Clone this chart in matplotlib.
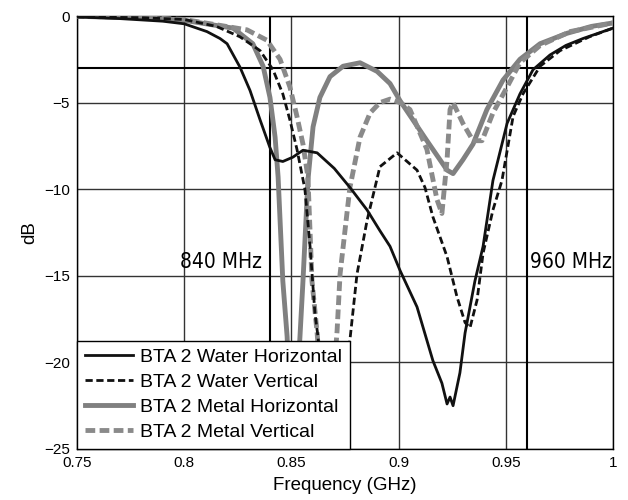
import matplotlib
matplotlib.use("Agg")
import matplotlib.pyplot as plt
from matplotlib import font_manager

# ---- data ----
wh_f = [0.75, 0.77, 0.79, 0.80, 0.8106, 0.8167, 0.82, 0.826, 0.8307, 0.8354, 0.840, 0.8424,
        0.846, 0.8507, 0.8554, 0.862, 0.87, 0.8773, 0.8853, 0.8913, 0.896, 0.9007, 0.9086,
        0.916, 0.9202, 0.9226, 0.924, 0.9254, 0.9286, 0.931, 0.9356, 0.9394, 0.944, 0.9506,
        0.9566, 0.9627, 0.9706, 0.978, 0.986, 0.993, 1.0]
wh_db = [-0.05, -0.15, -0.3, -0.45, -0.9, -1.3, -1.6, -2.95, -4.3, -6.0, -7.6, -8.3,
         -8.4, -8.15, -7.75, -7.9, -8.8, -9.9, -11.2, -12.4, -13.3, -14.7, -16.8,
         -19.9, -21.2, -22.4, -22.0, -22.5, -20.6, -18.3, -15.3, -13.3, -9.5, -6.2,
         -4.5, -3.1, -2.25, -1.7, -1.3, -1.0, -0.7]

wv_f = [0.75, 0.78, 0.80, 0.815, 0.826, 0.8354, 0.8414, 0.846, 0.8493, 0.8526, 0.8563,
        0.8587, 0.861, 0.8624, 0.866, 0.872, 0.8773, 0.8806, 0.8853, 0.8913, 0.8993,
        0.9086, 0.9123, 0.916, 0.9226, 0.9272, 0.931, 0.9333, 0.9366, 0.9394, 0.944,
        0.9482, 0.9534, 0.958, 0.966, 0.9753, 0.989, 1.0]
wv_db = [-0.05, -0.1, -0.2, -0.6, -1.2, -2.0, -3.1, -4.5, -6.0, -7.7, -10.0,
         -13.3, -17.2, -18.5, -23.5, -23.5, -18.7, -14.9, -11.8, -8.7, -7.9,
         -8.9, -9.9, -11.6, -13.9, -16.2, -17.7, -18.0, -16.4, -13.7, -11.2,
         -9.5, -5.8, -4.5, -2.9, -2.0, -1.2, -0.7]

mh_f = [0.75, 0.78, 0.80, 0.8228, 0.832, 0.8368, 0.840, 0.8424, 0.8438, 0.846, 0.848,
        0.8505, 0.854, 0.8554, 0.8577, 0.8601, 0.8633, 0.868, 0.8741, 0.882, 0.89,
        0.896, 0.9007, 0.9067, 0.9132, 0.9193, 0.9226, 0.9254, 0.93, 0.9347, 0.9412,
        0.9487, 0.9566, 0.966, 0.9785, 0.99, 1.0]
mh_db = [-0.02, -0.1, -0.25, -0.7, -1.6, -2.9, -4.7, -7.0, -9.3, -15.3, -18.5,
         -26.0, -18.5, -15.3, -9.5, -6.4, -4.7, -3.5, -2.9, -2.7, -3.2,
         -3.9, -4.9, -6.0, -7.2, -8.3, -8.9, -9.1, -8.3, -7.4, -5.4,
         -3.7, -2.5, -1.6, -1.0, -0.6, -0.4]

mv_f = [0.75, 0.78, 0.80, 0.8293, 0.8386, 0.8447, 0.8493, 0.8526, 0.8554, 0.8577, 0.8596,
        0.862, 0.8665, 0.8713, 0.8727, 0.8759, 0.8773, 0.882, 0.8867, 0.8913, 0.896,
        0.9007, 0.9053, 0.9132, 0.9179, 0.9202, 0.9226, 0.924, 0.9254, 0.93, 0.9347,
        0.9389, 0.944, 0.9506, 0.9566, 0.966, 0.98, 1.0]
mv_db = [-0.02, -0.08, -0.2, -0.8, -1.4, -2.5, -4.1, -5.8, -7.4, -9.3, -15.3,
         -18.3, -26.0, -18.2, -14.9, -11.4, -9.9, -7.0, -5.6, -5.0, -4.8,
         -5.0, -5.4, -7.7, -10.6, -11.4, -8.3, -5.4, -5.0, -6.2, -7.2,
         -7.2, -5.6, -4.1, -2.7, -1.7, -0.9, -0.4]

labels = ["BTA 2 Water Horizontal", "BTA 2 Water Vertical",
          "BTA 2 Metal Horizontal", "BTA 2 Metal Vertical"]
x_ticks = [0.75, 0.8, 0.85, 0.9, 0.95, 1.0]
x_ticklabels = ["0.75", "0.8", "0.85", "0.9", "0.95", "1"]
y_ticks = [0, -5, -10, -15, -20, -25]
ref_db = -3
band_lo = 0.84
band_hi = 0.96
band_labels = ["840 MHz", "960 MHz"]

plt.rcParams['font.family'] = ['Liberation Sans', 'DejaVu Sans']

# pick a condensed face if one is installed
cond_family = 'DejaVu Sans'
cond_stretch = 'normal'
for f in font_manager.fontManager.ttflist:
    if 'condensed' in str(f.stretch).lower() or 'Narrow' in f.name or 'Condensed' in f.name:
        if 'Mono' in f.name or 'Serif' in f.name:
            continue
        cond_family = f.name
        cond_stretch = f.stretch
        break

fig = plt.figure(figsize=(6.28, 5.0), dpi=100)
ax = fig.add_axes([77/628, 1 - 449/500, (613 - 77)/628, (449 - 16)/500])

gray = '#808080'
ax.plot(wh_f, wh_db, color='#111111', lw=2.0, label=labels[0], zorder=4)
ax.plot(wv_f, wv_db, color='#111111', lw=2.0, ls=(0, (2.6, 1.3)), label=labels[1], zorder=4)
ax.plot(mh_f, mh_db, color=gray, lw=3.5, label=labels[2], zorder=3)
ax.plot(mv_f, mv_db, color='#8a8a8a', lw=3.5, ls=(0, (2.0, 0.9)), label=labels[3], zorder=3)

ax.axhline(ref_db, color='black', lw=1.5, zorder=2)
ax.axvline(band_lo, color='black', lw=1.5, zorder=2)
ax.axvline(band_hi, color='black', lw=1.5, zorder=2)

ax.set_xlim(0.75, 1.0)
ax.set_ylim(-25, 0)
ax.set_xticks(x_ticks)
ax.set_xticklabels(x_ticklabels)
ax.set_yticks(y_ticks)
ax.tick_params(length=0, labelsize=11, pad=5)
ax.grid(True, color='#333333', lw=1.0, zorder=1)
ax.set_axisbelow(True)
for s in ax.spines.values():
    s.set_linewidth(1.0)
    s.set_color('black')

ax.set_xlabel("Frequency (GHz)", fontsize=13.5, labelpad=5)
ax.set_ylabel("dB", fontsize=13.5, labelpad=4)

ax.text(0.8363, -14.2, band_labels[0], ha='right', va='center', fontsize=15,
        family=cond_family, fontstretch=cond_stretch, zorder=5)
ax.text(0.9613, -14.2, band_labels[1], ha='left', va='center', fontsize=15,
        family=cond_family, fontstretch=cond_stretch, zorder=5)

leg = ax.legend(loc='lower left', borderaxespad=0, fancybox=False, framealpha=1,
                edgecolor='black', fontsize=14, handlelength=2.5, labelspacing=0.38,
                borderpad=0.4, handletextpad=0.35)
leg.get_frame().set_linewidth(1.0)
leg.set_zorder(10)

fig.savefig("out.png", dpi=100)
